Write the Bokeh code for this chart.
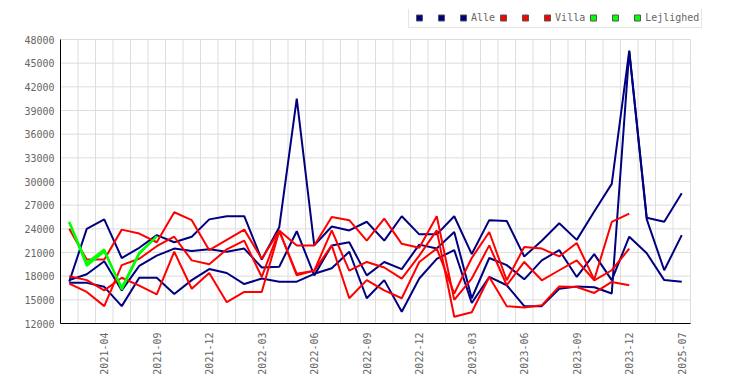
from bokeh.plotting import figure
from bokeh.models import Range1d, FixedTicker, Legend, LegendItem
from bokeh.embed import file_html
from bokeh.resources import INLINE

months = ["2021-02", "2021-03", "2021-04", "2021-06", "2021-07", "2021-09",
          "2021-10", "2021-11", "2021-12", "2022-01", "2022-02", "2022-03",
          "2022-04", "2022-05", "2022-06", "2022-07", "2022-08", "2022-09",
          "2022-10", "2022-11", "2022-12", "2023-01", "2023-02", "2023-03",
          "2023-04", "2023-05", "2023-06", "2023-07", "2023-08", "2023-09",
          "2023-10", "2023-11", "2023-12", "2024-06", "2025-01", "2025-07"]

alle_1 = [17300, 24000, 25200, 20300, 21600, 23200, 22300, 23000, 25200, 25600,
          25600, 20100, 24200, 40500, 21900, 24300, 23800, 24900, 22500, 25600,
          23300, 23300, 25600, 20800, 25100, 25000, 20500, 22500, 24700, 22600,
          26200, 29700, 46600, 25400, 24900, 28500]
alle_2 = [17500, 18250, 19900, 16200, 19300, 20600, 21500, 21200, 21400, 21100,
          21500, 19100, 19200, 23700, 18100, 21900, 22300, 18100, 19800, 18900,
          22000, 21500, 23600, 15200, 20300, 19400, 17600, 20000, 21300, 17900,
          20800, 17500, 23000, 20900, 17500, 17300]
alle_3 = [17150, 17150, 16650, 14200, 17800, 17800, 15750, 17500, 18900, 18400,
          17000, 17700, 17300, 17300, 18300, 19000, 21100, 15200, 17500, 13500,
          17700, 20200, 21300, 14600, 17900, 16850, 14200, 14200, 16400, 16700,
          16600, 15800, 46500, 25200, 18750, 23200]

villa_1 = [24000, 20100, 20100, 23900, 23400, 22300, 26100, 25100, 21300, 22600,
           23900, 20200, 23800, 21900, 21900, 25500, 25100, 22500, 25300, 22100,
           21600, 25600, 15000, 17700, 21900, 16850, 19800, 17480, 18750, 20000,
           17480, 18750, 21500]
villa_2 = [17060, 16000, 14200, 19400, 20200, 21800, 23000, 20000, 19500, 21400,
           22500, 17900, 23800, 18100, 18700, 23800, 18700, 19800, 19100, 17700,
           20600, 23800, 12850, 13430, 17900, 14190, 14025, 14300, 16700, 16630,
           15870, 17270, 16850]
villa_3 = [18000, 17500, 16200, 17800, 16800, 15700, 21100, 16400, 18400, 14700,
           16000, 16000, 23700, 18300, 18700, 21900, 15200, 17500, 16200, 15200,
           19800, 21500, 15800, 20300, 23600, 17480, 21700, 21500, 20500, 22200,
           17570, 24870, 25930]

lejl_1 = [24900, 19700, 21400, 16300, 20800, 23100]
lejl_2 = [24800, 19300, 21100, 16600, 21000, 23000]
lejl_3 = [24850, 19500, 21250, 16450, 20900, 23050]

y_ticks = list(range(12000, 48001, 3000))
label_idx = list(range(2, len(months), 3))

NAVY, RED, GREEN = "#000080", "#ff0000", "#00ff00"
FONT = "DejaVu Sans Mono"
NAN = float("nan")

# frame: 630 x 284 px for the chart itself, plus room for the legend
y_lo, y_hi = y_ticks[0], y_ticks[-1]
y_top = y_hi + (y_hi - y_lo) * 30 / 284
x_lo, x_hi = -0.5, len(months) - 0.5
x_right = x_hi + (x_hi - x_lo) * 20 / 630

p = figure(width=740, height=382, output_backend="svg", toolbar_location=None,
           x_range=Range1d(x_lo, x_right), y_range=Range1d(y_lo, y_top),
           min_border_left=60, min_border_right=30, min_border_top=9,
           min_border_bottom=59)
p.outline_line_color = None
p.background_fill_color = "white"

p.xaxis.ticker = FixedTicker(ticks=label_idx)
p.xaxis.major_label_overrides = {i: months[i] for i in label_idx}
p.xaxis.major_label_orientation = 1.5707963267948966
p.xaxis.major_label_standoff = 9
p.xaxis.bounds = (x_lo, x_hi)
p.yaxis.ticker = FixedTicker(ticks=y_ticks)
p.yaxis.bounds = (y_lo, y_hi)
p.yaxis.major_label_standoff = 6
for ax in (p.xaxis, p.yaxis):
    ax.major_tick_line_color = None
    ax.minor_tick_line_color = None
    ax.major_tick_out = 0
    ax.major_tick_in = 0
    ax.minor_tick_out = 0
    ax.minor_tick_in = 0
    ax.axis_line_color = "black"
    ax.axis_line_width = 1
    ax.major_label_text_font = FONT
    ax.major_label_text_font_size = "10px"
    ax.major_label_text_color = "#666666"

p.xgrid.visible = False
p.ygrid.visible = False
cell_edges = [i - 0.5 for i in range(len(months) + 1)]
n_e, n_t = len(cell_edges), len(y_ticks)
p.segment(x0=cell_edges, y0=[y_lo] * n_e, x1=cell_edges, y1=[y_hi] * n_e,
          line_color="#dddddd", line_width=1)
p.segment(x0=[x_lo] * n_t, y0=y_ticks, x1=[x_hi] * n_t, y1=y_ticks,
          line_color="#dddddd", line_width=1)

def draw(vals, color):
    p.line(list(range(len(vals))), vals, line_color=color, line_width=2)

for s in (alle_1, alle_2, alle_3):
    draw(s, NAVY)
for s in (villa_1, villa_2, villa_3):
    draw(s, RED)
for s in (lejl_1, lejl_2, lejl_3):
    draw(s, GREEN)

proxies = {}
for c in (NAVY, RED, GREEN):
    proxies[c] = p.scatter(x=[NAN], y=[NAN], marker="square", size=6,
                           fill_color=c, line_color="#555555", line_width=1)

items = []
for c, name in ((NAVY, "Alle"), (RED, "Villa"), (GREEN, "Lejlighed")):
    items.append(LegendItem(label=" ", renderers=[proxies[c]]))
    items.append(LegendItem(label=" ", renderers=[proxies[c]]))
    items.append(LegendItem(label=name, renderers=[proxies[c]]))

legend = Legend(items=items, orientation="horizontal", location=(348, 295),
                glyph_width=16, glyph_height=15, label_height=15, label_width=6,
                label_standoff=0, spacing=0, padding=2, margin=0,
                label_text_font=FONT, label_text_font_size="10px",
                label_text_color="#666666", border_line_color="#cccccc",
                border_line_width=1, background_fill_color="white",
                background_fill_alpha=1.0)
p.add_layout(legend, "center")

open("out.html", "w").write(file_html(p, INLINE))
